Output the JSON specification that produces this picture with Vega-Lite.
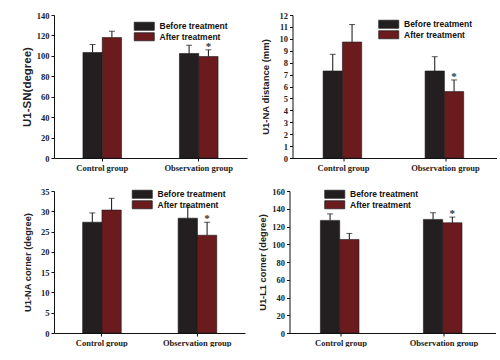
{
  "$schema": "https://vega.github.io/schema/vega-lite/v6.json",
  "padding": {"left": 21, "top": 11, "right": 0, "bottom": 0},
  "background": "white",
  "data": {"name": "bars"},
  "datasets": {
    "bars": [
      {"panel": "A", "group": "Control group", "time": "Before treatment", "value": 103.3, "upper": 111.1, "sig": ""},
      {"panel": "A", "group": "Control group", "time": "After treatment", "value": 117.9, "upper": 124.1, "sig": ""},
      {"panel": "A", "group": "Observation group", "time": "Before treatment", "value": 102.3, "upper": 110.4, "sig": ""},
      {"panel": "A", "group": "Observation group", "time": "After treatment", "value": 99.4, "upper": 105.9, "sig": "*"},
      {"panel": "B", "group": "Control group", "time": "Before treatment", "value": 7.3, "upper": 8.7, "sig": ""},
      {"panel": "B", "group": "Control group", "time": "After treatment", "value": 9.73, "upper": 11.2, "sig": ""},
      {"panel": "B", "group": "Observation group", "time": "Before treatment", "value": 7.3, "upper": 8.5, "sig": ""},
      {"panel": "B", "group": "Observation group", "time": "After treatment", "value": 5.57, "upper": 6.55, "sig": "*"},
      {"panel": "C", "group": "Control group", "time": "Before treatment", "value": 27.3, "upper": 29.6, "sig": ""},
      {"panel": "C", "group": "Control group", "time": "After treatment", "value": 30.3, "upper": 33.2, "sig": ""},
      {"panel": "C", "group": "Observation group", "time": "Before treatment", "value": 28.3, "upper": 31.05, "sig": ""},
      {"panel": "C", "group": "Observation group", "time": "After treatment", "value": 24.1, "upper": 27.3, "sig": "*"},
      {"panel": "D", "group": "Control group", "time": "Before treatment", "value": 126.9, "upper": 134.2, "sig": ""},
      {"panel": "D", "group": "Control group", "time": "After treatment", "value": 105.4, "upper": 112.2, "sig": ""},
      {"panel": "D", "group": "Observation group", "time": "Before treatment", "value": 128.0, "upper": 135.5, "sig": ""},
      {"panel": "D", "group": "Observation group", "time": "After treatment", "value": 124.2, "upper": 130.6, "sig": "*"}
    ]
  },
  "config": {
    "view": {"stroke": null},
    "axis": {
      "domainColor": "#111111", "tickColor": "#111111", "grid": false,
      "tickSize": 3, "labelPadding": 2, "labelColor": "#222222", "labelOverlap": false,
      "labelFont": "Liberation Serif", "labelFontWeight": "bold", "labelFontSize": 8.5,
      "titleFont": "Liberation Sans", "titleFontWeight": "bold", "titleColor": "#222222"
    },
    "legend": {
      "labelFont": "Liberation Sans", "labelFontWeight": "bold", "labelFontSize": 8.5, "labelColor": "#111111",
      "symbolType": "M-5,-2H5V2H-5Z", "symbolSize": 16, "symbolStrokeWidth": 0.8, "symbolStrokeColor": "#222222",
      "rowPadding": -1.5, "labelOffset": 11, "title": null, "padding": 0
    }
  },
  "resolve": {"scale": {"color": "independent"}, "legend": {"color": "independent"}},
  "vconcat": [
    {
      "spacing": 13.5,
      "resolve": {"scale": {"color": "independent"}, "legend": {"color": "independent"}},
      "hconcat": [
        {
          "width": 193, "height": 143,
          "transform": [{"filter": "datum.panel === 'A'"}],
          "encoding": {
            "x": {"field": "group", "type": "nominal", "sort": ["Control group", "Observation group"], "scale": {"paddingInner": 0.6, "paddingOuter": 0.3}, "axis": {"title": null, "labelAngle": 0}},
            "xOffset": {"field": "time", "type": "nominal", "sort": ["Before treatment", "After treatment"], "scale": {"paddingInner": 0, "paddingOuter": 0}}
          },
          "layer": [
            {"mark": {"type": "rule", "color": "#111111", "strokeWidth": 1}, "encoding": {"y": {"field": "value", "type": "quantitative", "scale": {"domain": [0, 140]}, "axis": {"title": "U1-SN(degree)", "titleFontSize": 11.5, "values": [0, 20, 40, 60, 80, 100, 120, 140], "minExtent": 18, "maxExtent": 18, "titlePadding": 4, "labelOverlap": false}}, "y2": {"field": "upper"}}},
            {"mark": {"type": "bar", "strokeWidth": 0.6, "stroke": "#1a1a1a"},
             "encoding": {
               "y": {"field": "value", "type": "quantitative", "scale": {"domain": [0, 140]}, "axis": {"title": "U1-SN(degree)", "titleFontSize": 11.5, "values": [0, 20, 40, 60, 80, 100, 120, 140], "minExtent": 18, "maxExtent": 18, "titlePadding": 4, "labelOverlap": false}},
               "color": {"field": "time", "type": "nominal", "sort": ["Before treatment", "After treatment"], "scale": {"domain": ["Before treatment", "After treatment"], "range": ["#231f20", "#6b1a1e"]}, "legend": {"orient": "none", "legendX": 86, "legendY": 7}}
             }},
            {"mark": {"type": "tick", "color": "#111111", "thickness": 1, "size": 6}, "encoding": {"y": {"field": "upper", "type": "quantitative", "scale": {"domain": [0, 140]}, "axis": {"title": "U1-SN(degree)", "titleFontSize": 11.5, "values": [0, 20, 40, 60, 80, 100, 120, 140], "minExtent": 18, "maxExtent": 18, "titlePadding": 4, "labelOverlap": false}}}},
            {"mark": {"type": "text", "font": "Liberation Serif", "fontSize": 11, "fontWeight": "bold", "baseline": "alphabetic", "color": "#333333"}, "encoding": {"y": {"field": "upper", "type": "quantitative", "scale": {"domain": [0, 140]}, "axis": {"title": "U1-SN(degree)", "titleFontSize": 11.5, "values": [0, 20, 40, 60, 80, 100, 120, 140], "minExtent": 18, "maxExtent": 18, "titlePadding": 4, "labelOverlap": false}}, "text": {"field": "sig"}}}
          ]
        },
        {
          "width": 204, "height": 143,
          "transform": [{"filter": "datum.panel === 'B'"}],
          "encoding": {
            "x": {"field": "group", "type": "nominal", "sort": ["Control group", "Observation group"], "scale": {"paddingInner": 0.6, "paddingOuter": 0.3}, "axis": {"title": null, "labelAngle": 0}},
            "xOffset": {"field": "time", "type": "nominal", "sort": ["Before treatment", "After treatment"], "scale": {"paddingInner": 0, "paddingOuter": 0}}
          },
          "layer": [
            {"mark": {"type": "rule", "color": "#111111", "strokeWidth": 1}, "encoding": {"y": {"field": "value", "type": "quantitative", "scale": {"domain": [0, 12]}, "axis": {"title": "U1-NA distance (mm)", "titleFontSize": 9.5, "values": [0, 1, 2, 3, 4, 5, 6, 7, 8, 9, 10, 11, 12], "minExtent": 18, "maxExtent": 18, "titlePadding": 4, "labelOverlap": false}}, "y2": {"field": "upper"}}},
            {"mark": {"type": "bar", "strokeWidth": 0.6, "stroke": "#1a1a1a"},
             "encoding": {
               "y": {"field": "value", "type": "quantitative", "scale": {"domain": [0, 12]}, "axis": {"title": "U1-NA distance (mm)", "titleFontSize": 9.5, "values": [0, 1, 2, 3, 4, 5, 6, 7, 8, 9, 10, 11, 12], "minExtent": 18, "maxExtent": 18, "titlePadding": 4, "labelOverlap": false}},
               "color": {"field": "time", "type": "nominal", "sort": ["Before treatment", "After treatment"], "scale": {"domain": ["Before treatment", "After treatment"], "range": ["#231f20", "#6b1a1e"]}, "legend": {"orient": "none", "legendX": 92, "legendY": 5}}
             }},
            {"mark": {"type": "tick", "color": "#111111", "thickness": 1, "size": 6}, "encoding": {"y": {"field": "upper", "type": "quantitative", "scale": {"domain": [0, 12]}, "axis": {"title": "U1-NA distance (mm)", "titleFontSize": 9.5, "values": [0, 1, 2, 3, 4, 5, 6, 7, 8, 9, 10, 11, 12], "minExtent": 18, "maxExtent": 18, "titlePadding": 4, "labelOverlap": false}}}},
            {"mark": {"type": "text", "font": "Liberation Serif", "fontSize": 11, "fontWeight": "bold", "baseline": "alphabetic", "color": "#333333"}, "encoding": {"y": {"field": "upper", "type": "quantitative", "scale": {"domain": [0, 12]}, "axis": {"title": "U1-NA distance (mm)", "titleFontSize": 9.5, "values": [0, 1, 2, 3, 4, 5, 6, 7, 8, 9, 10, 11, 12], "minExtent": 18, "maxExtent": 18, "titlePadding": 4, "labelOverlap": false}}, "text": {"field": "sig"}}}
          ]
        }
      ]
    },
    {
      "spacing": 13.5,
      "resolve": {"scale": {"color": "independent"}, "legend": {"color": "independent"}},
      "hconcat": [
        {
          "width": 191, "height": 142,
          "transform": [{"filter": "datum.panel === 'C'"}],
          "encoding": {
            "x": {"field": "group", "type": "nominal", "sort": ["Control group", "Observation group"], "scale": {"paddingInner": 0.6, "paddingOuter": 0.3}, "axis": {"title": null, "labelAngle": 0}},
            "xOffset": {"field": "time", "type": "nominal", "sort": ["Before treatment", "After treatment"], "scale": {"paddingInner": 0, "paddingOuter": 0}}
          },
          "layer": [
            {"mark": {"type": "rule", "color": "#111111", "strokeWidth": 1}, "encoding": {"y": {"field": "value", "type": "quantitative", "scale": {"domain": [0, 35]}, "axis": {"title": "U1-NA corner (degree)", "titleFontSize": 9.3, "values": [0, 5, 10, 15, 20, 25, 30, 35], "minExtent": 18, "maxExtent": 18, "titlePadding": 4, "labelOverlap": false}}, "y2": {"field": "upper"}}},
            {"mark": {"type": "bar", "strokeWidth": 0.6, "stroke": "#1a1a1a"},
             "encoding": {
               "y": {"field": "value", "type": "quantitative", "scale": {"domain": [0, 35]}, "axis": {"title": "U1-NA corner (degree)", "titleFontSize": 9.3, "values": [0, 5, 10, 15, 20, 25, 30, 35], "minExtent": 18, "maxExtent": 18, "titlePadding": 4, "labelOverlap": false}},
               "color": {"field": "time", "type": "nominal", "sort": ["Before treatment", "After treatment"], "scale": {"domain": ["Before treatment", "After treatment"], "range": ["#231f20", "#6b1a1e"]}, "legend": {"orient": "none", "legendX": 84, "legendY": -1}}
             }},
            {"mark": {"type": "tick", "color": "#111111", "thickness": 1, "size": 6}, "encoding": {"y": {"field": "upper", "type": "quantitative", "scale": {"domain": [0, 35]}, "axis": {"title": "U1-NA corner (degree)", "titleFontSize": 9.3, "values": [0, 5, 10, 15, 20, 25, 30, 35], "minExtent": 18, "maxExtent": 18, "titlePadding": 4, "labelOverlap": false}}}},
            {"mark": {"type": "text", "font": "Liberation Serif", "fontSize": 11, "fontWeight": "bold", "baseline": "alphabetic", "color": "#333333"}, "encoding": {"y": {"field": "upper", "type": "quantitative", "scale": {"domain": [0, 35]}, "axis": {"title": "U1-NA corner (degree)", "titleFontSize": 9.3, "values": [0, 5, 10, 15, 20, 25, 30, 35], "minExtent": 18, "maxExtent": 18, "titlePadding": 4, "labelOverlap": false}}, "text": {"field": "sig"}}}
          ]
        },
        {
          "width": 206, "height": 142,
          "transform": [{"filter": "datum.panel === 'D'"}],
          "encoding": {
            "x": {"field": "group", "type": "nominal", "sort": ["Control group", "Observation group"], "scale": {"paddingInner": 0.6, "paddingOuter": 0.3}, "axis": {"title": null, "labelAngle": 0}},
            "xOffset": {"field": "time", "type": "nominal", "sort": ["Before treatment", "After treatment"], "scale": {"paddingInner": 0, "paddingOuter": 0}}
          },
          "layer": [
            {"mark": {"type": "rule", "color": "#111111", "strokeWidth": 1}, "encoding": {"y": {"field": "value", "type": "quantitative", "scale": {"domain": [0, 160]}, "axis": {"title": "U1-L1 corner (degree)", "titleFontSize": 9.3, "values": [0, 20, 40, 60, 80, 100, 120, 140, 160], "minExtent": 18, "maxExtent": 18, "titlePadding": 4, "labelOverlap": false}}, "y2": {"field": "upper"}}},
            {"mark": {"type": "bar", "strokeWidth": 0.6, "stroke": "#1a1a1a"},
             "encoding": {
               "y": {"field": "value", "type": "quantitative", "scale": {"domain": [0, 160]}, "axis": {"title": "U1-L1 corner (degree)", "titleFontSize": 9.3, "values": [0, 20, 40, 60, 80, 100, 120, 140, 160], "minExtent": 18, "maxExtent": 18, "titlePadding": 4, "labelOverlap": false}},
               "color": {"field": "time", "type": "nominal", "sort": ["Before treatment", "After treatment"], "scale": {"domain": ["Before treatment", "After treatment"], "range": ["#231f20", "#6b1a1e"]}, "legend": {"orient": "none", "legendX": 41, "legendY": -1}}
             }},
            {"mark": {"type": "tick", "color": "#111111", "thickness": 1, "size": 6}, "encoding": {"y": {"field": "upper", "type": "quantitative", "scale": {"domain": [0, 160]}, "axis": {"title": "U1-L1 corner (degree)", "titleFontSize": 9.3, "values": [0, 20, 40, 60, 80, 100, 120, 140, 160], "minExtent": 18, "maxExtent": 18, "titlePadding": 4, "labelOverlap": false}}}},
            {"mark": {"type": "text", "font": "Liberation Serif", "fontSize": 11, "fontWeight": "bold", "baseline": "alphabetic", "color": "#333333"}, "encoding": {"y": {"field": "upper", "type": "quantitative", "scale": {"domain": [0, 160]}, "axis": {"title": "U1-L1 corner (degree)", "titleFontSize": 9.3, "values": [0, 20, 40, 60, 80, 100, 120, 140, 160], "minExtent": 18, "maxExtent": 18, "titlePadding": 4, "labelOverlap": false}}, "text": {"field": "sig"}}}
          ]
        }
      ]
    }
  ],
  "spacing": 15
}
